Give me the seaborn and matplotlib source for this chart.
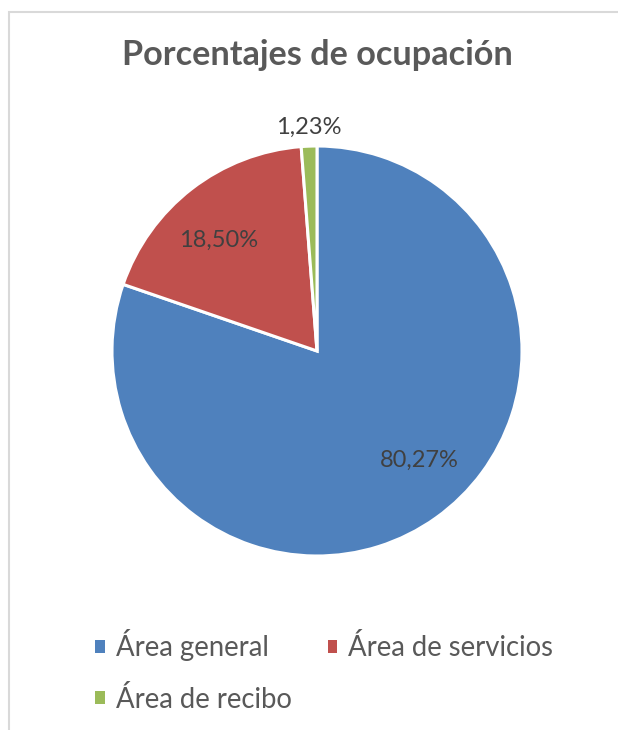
import matplotlib
matplotlib.use("Agg")
import matplotlib.pyplot as plt
from matplotlib.patches import Patch, Rectangle
import seaborn as sns

# Occupancy shares per area (percent)
categories = ["Área general", "Área de servicios", "Área de recibo"]
shares = [80.27, 18.50, 1.23]
value_labels = ["80,27%", "18,50%", "1,23%"]

sns.set_theme(style="white")
plt.rcParams["font.family"] = ["Lato", "DejaVu Sans"]

colors = ["#4f81bd", "#c0504d", "#9bbb59"]
text_gray = "#595959"
label_gray = "#404040"

W, H = 618, 730
fig = plt.figure(figsize=(W / 100, H / 100), dpi=100)
fig.patch.set_facecolor("white")

# Chart frame (light gray border)
fig.add_artist(Rectangle((8.5 / W, -0.05), 1.1, (H - 12) / H + 0.05,
                         transform=fig.transFigure, fill=False,
                         edgecolor="#d9d9d9", linewidth=1.5))

# Pie axes: centre (317, 351) px, radius 205 px
cx, cy, r = 317, 351, 205
ax = fig.add_axes([(cx - r) / W, (H - cy - r) / H, 2 * r / W, 2 * r / H])
wedges, _ = ax.pie(shares, colors=colors, startangle=90, counterclock=False,
                   radius=1.0,
                   wedgeprops=dict(edgecolor="white", linewidth=2.2))
ax.set_xlim(-1, 1)
ax.set_ylim(-1, 1)
ax.set_aspect("equal")
ax.axis("off")

# Value labels (positions in pie data units)
label_pos = [(0.50, -0.535), (-0.48, 0.54), (-0.04, 1.09)]
for (x, y), txt in zip(label_pos, value_labels):
    ax.text(x, y, txt, ha="center", va="center", fontsize=17,
            color=label_gray, clip_on=False)

fig.text(cx / W, 1 - 55 / H, "Porcentajes de ocupación", ha="center",
         va="center", fontsize=24.7, fontweight="bold", color=text_gray)

# Legend, row-major order across two columns
handles = [Patch(facecolor=c, edgecolor="none") for c in colors]
order = [0, 2, 1]
leg = fig.legend([handles[i] for i in order], [categories[i] for i in order],
                 ncol=2, loc="upper left", bbox_to_anchor=(95 / W, 1 - 629 / H),
                 frameon=False, fontsize=19.8, handlelength=0.36,
                 handleheight=0.36, handletextpad=0.4, columnspacing=1.3,
                 labelspacing=0.9, borderaxespad=0, borderpad=0)
for t in leg.get_texts():
    t.set_color(text_gray)

fig.savefig("out.png", dpi=100, facecolor="white")
